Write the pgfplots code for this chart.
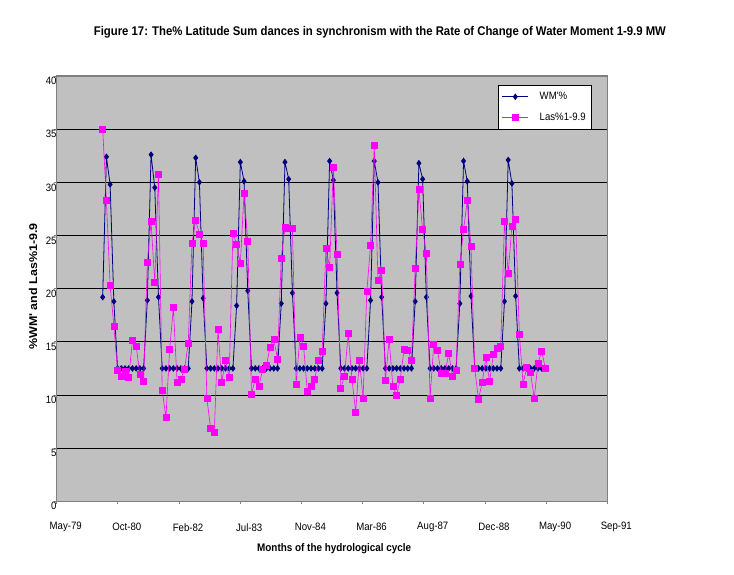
\documentclass[border=0pt]{standalone}
\usepackage{fontspec}
\setmainfont{Liberation Sans}
\usepackage{pgfplots}
\usepackage{pgfplotstable}
\pgfplotsset{compat=1.18}
\usepackage{graphicx}
\definecolor{navyc}{HTML}{000080}
\definecolor{magc}{HTML}{FF00FF}
\definecolor{plotgray}{HTML}{C0C0C0}
\definecolor{framegray}{HTML}{808080}
\newcommand\sx[1]{\scalebox{0.9}[1]{#1}}

\pgfplotstableread{
x y
12 19.2
13 32.4
14 29.8
15 18.8
16 12.5
17 12.5
18 12.5
19 12.5
20 12.5
21 12.5
22 12.5
23 12.5
24 18.9
25 32.6
26 29.5
27 19.2
28 12.5
29 12.5
30 12.5
31 12.5
32 12.5
33 12.5
34 12.5
35 12.5
36 18.8
37 32.3
38 30.0
39 19.1
40 12.5
41 12.5
42 12.5
43 12.5
44 12.5
45 12.5
46 12.5
47 12.5
48 18.4
49 31.9
50 30.1
51 19.8
52 12.5
53 12.5
54 12.5
55 12.5
56 12.5
57 12.5
58 12.5
59 12.5
60 18.6
61 31.9
62 30.3
63 19.6
64 12.5
65 12.5
66 12.5
67 12.5
68 12.5
69 12.5
70 12.5
71 12.5
72 18.6
73 32.0
74 30.2
75 19.6
76 12.5
77 12.5
78 12.5
79 12.5
80 12.5
81 12.5
82 12.5
83 12.5
84 18.9
85 32.0
86 30.0
87 19.2
88 12.5
89 12.5
90 12.5
91 12.5
92 12.5
93 12.5
94 12.5
95 12.5
96 18.8
97 31.8
98 30.3
99 19.2
100 12.5
101 12.5
102 12.5
103 12.5
104 12.5
105 12.5
106 12.5
107 12.5
108 18.6
109 32.0
110 30.1
111 19.3
112 12.5
113 12.5
114 12.5
115 12.5
116 12.5
117 12.5
118 12.5
119 12.5
120 18.8
121 32.1
122 29.9
123 19.3
124 12.5
125 12.5
126 12.5
127 12.5
128 12.5
129 12.5
130 12.5
131 12.5
}\wm

\pgfplotstableread{
x y
12 35.0
13 28.3
14 20.3
15 16.5
16 12.3
17 11.8
18 12.2
19 11.7
20 15.1
21 14.6
22 11.9
23 11.25
24 22.5
25 26.3
26 20.6
27 30.75
28 10.4
29 7.9
30 14.3
31 18.2
32 11.2
33 11.5
34 12.4
35 14.9
36 24.3
37 26.4
38 25.15
39 24.3
40 9.7
41 6.9
42 6.45
43 16.15
44 11.15
45 13.3
46 11.65
47 25.25
48 24.2
49 22.4
50 29.0
51 24.5
52 10.1
53 11.45
54 10.85
55 12.4
56 12.75
57 14.5
58 15.2
59 13.4
60 22.9
61 25.75
62 25.65
63 25.65
64 11.0
65 15.4
66 14.6
67 10.35
68 10.85
69 11.5
70 13.3
71 14.1
72 23.75
73 22.05
74 31.45
75 23.2
76 10.6
77 11.8
78 15.8
79 11.5
80 8.4
81 13.3
82 9.7
83 19.75
84 24.05
85 33.5
86 20.75
87 21.75
88 11.4
89 15.2
90 10.8
91 10.0
92 11.5
93 14.3
94 14.2
95 13.3
96 21.9
97 29.3
98 25.55
99 23.3
100 9.7
101 14.8
102 14.2
103 12.0
104 12.0
105 13.9
106 11.8
107 12.3
108 22.3
109 25.55
110 28.3
111 24.0
112 12.5
113 9.6
114 11.15
115 13.5
116 11.25
117 13.8
118 14.35
119 14.6
120 26.3
121 21.45
122 25.9
123 26.55
124 15.7
125 11.05
126 12.6
127 12.1
128 9.7
129 13.0
130 14.1
131 12.5
}\las

\begin{document}
\begin{tikzpicture}[x=1pt,y=1pt]
\path[use as bounding box] (0,0) rectangle (734,574);
\begin{axis}[
  at={(56.7pt,72.7pt)}, anchor=south west,
  scale only axis, width=550.6pt, height=425.3pt,
  clip mode=individual,
  xmin=-0.36, xmax=147.64, ymin=0, ymax=40,
  axis background/.style={fill=plotgray},
  axis line style={draw=framegray, line width=1.2pt},
  xtick={-0.36,16.084,32.529,48.973,65.418,81.862,98.307,114.751,131.196,147.64},
  xticklabels={\sx{May-79},\sx{Oct-80},\sx{Feb-82},\sx{Jul-83},\sx{Nov-84},\sx{Mar-86},\sx{Aug-87},\sx{Dec-88},\sx{May-90},\sx{Sep-91}},
  ytick={0,5,...,40},
  yticklabels={\sx{0},\sx{5},\sx{10},\sx{15},\sx{20},\sx{25},\sx{30},\sx{35},\sx{40}},
  ymajorgrids,
  major grid style={black, line width=0.7pt},
  tick align=outside, major tick length=3pt,
  tick style={framegray, line width=0.8pt},
  xtick pos=left, ytick pos=left,
  tick label style={font=\fontsize{10.7}{12}\selectfont},
  xticklabel style={anchor=center, xshift=9pt, yshift=-23pt},
  yticklabel style={anchor=east, inner sep=0pt, xshift=3pt, yshift=-5pt},
  legend style={at={(0.8015,0.979)}, anchor=north west, draw=black, line width=0.8pt,
    fill=white, font=\fontsize{10.7}{12}\selectfont, inner xsep=3.5pt, inner ysep=5pt,
    row sep=8pt, cells={anchor=west},
    /tikz/every odd column/.append style={column sep=9pt}},
  legend image code/.code={\draw[#1, mark repeat=2, mark phase=2] plot coordinates {(0pt,0pt) (13pt,0pt) (26pt,0pt)};},
]
\addplot[navyc, line width=0.8pt, mark=diamond*, mark size=2.7pt, mark options={solid, fill=navyc, draw=navyc}] table {\wm};
\addlegendentry{\sx{WM\textquotesingle\%}}
\addplot[magc, line width=0.6pt, mark=square*, mark size=3pt, mark options={solid, fill=magc, draw=magc}] table {\las};
\addlegendentry{\sx{Las\%1-9.9}}
\node at (rel axis cs:0.587,1.1035) {\fontsize{12.6}{14}\selectfont\bfseries\sx{Figure 17: The\% Latitude Sum dances in synchronism with the Rate of Change of Water Moment 1-9.9 MW}};
\node at (rel axis cs:0.504,-0.112) {\fontsize{11}{13}\selectfont\bfseries\sx{Months of the hydrological cycle}};
\node[rotate=90] at (rel axis cs:-0.043,0.505) {\fontsize{12.5}{14}\selectfont\bfseries\scalebox{1}[0.9]{\%WM\textquotesingle{} and Las\%1-9.9}};
\end{axis}
\end{tikzpicture}
\end{document}
